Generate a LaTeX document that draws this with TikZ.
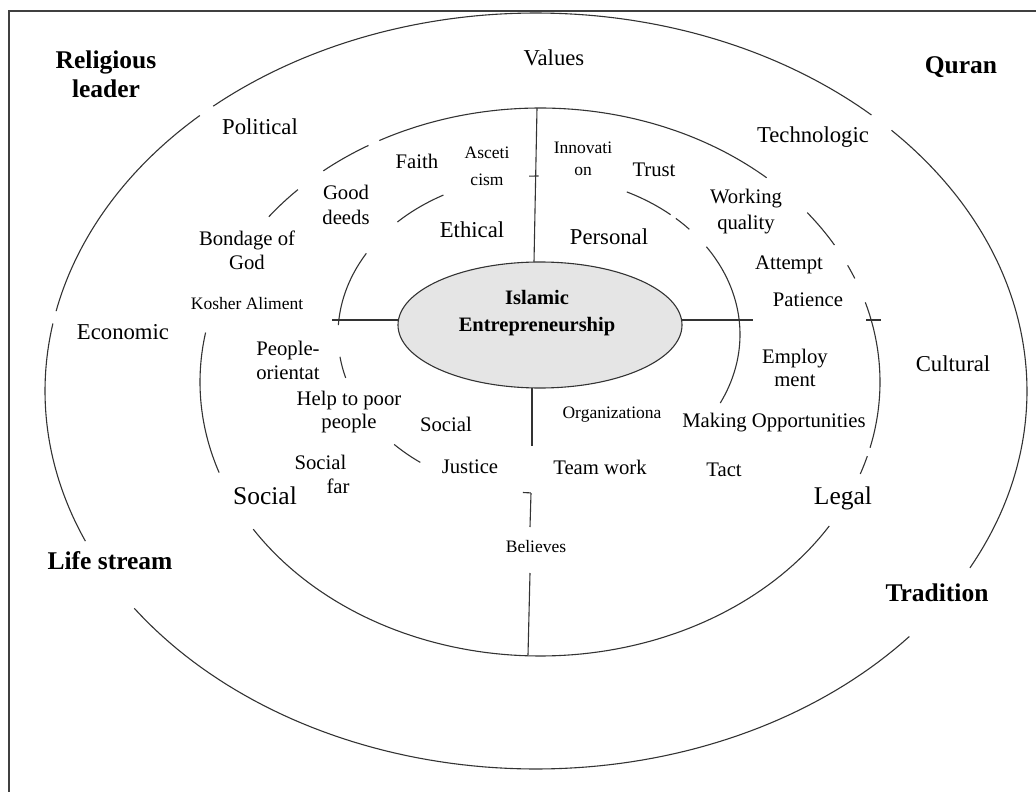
\documentclass[tikz,border=0pt]{standalone}
\usepackage{fontspec}
\setmainfont{Liberation Serif}
\usetikzlibrary{shapes.geometric}
\newcommand{\ellarc}[6]{\draw[ring] plot[domain=#5:#6,samples=80,variable=\t] ({#1+#3*cos(\t)},{#2+#4*sin(\t)});}
\begin{document}
\begin{tikzpicture}[x=1pt,y=-1pt,
  ring/.style={draw=black!80, line width=1.1pt},
  frame/.style={draw=black!75, line width=1.6pt},
  lbl/.style={inner sep=0pt, align=center, font=\fontsize{20.7}{24}\selectfont},
  lblL/.style={inner sep=0pt, align=center, font=\fontsize{22.7}{26}\selectfont},
  big/.style={inner sep=0pt, align=center, font=\fontsize{25.5}{30}\selectfont},
  small/.style={inner sep=0pt, align=center, font=\fontsize{17.5}{22}\selectfont},
  boldlbl/.style={inner sep=0pt, align=center, font=\fontsize{25.5}{29}\selectfont\bfseries},
  core/.style={ellipse, draw=black!80, line width=1.1pt, fill=black!10, minimum width=284pt, minimum height=126pt, inner sep=0pt},
]
\useasboundingbox (0,0) rectangle (1036,792);
\clip (0,0) rectangle (1036,792);
\draw[frame] (9,11) rectangle (1060,820);

% outer ellipse
\ellarc{536}{391}{491}{378}{-43.6}{27.9}
\ellarc{536}{391}{491}{378}{40.5}{144.9}
\ellarc{536}{391}{491}{378}{156.6}{190.3}
\ellarc{536}{391}{491}{378}{192.2}{226.8}
\ellarc{536}{391}{491}{378}{228.9}{313.1}

% middle ellipse
\ellarc{540}{382}{340}{274}{241.8}{311.8}
\ellarc{540}{382}{340}{274}{321.8}{330.0}
\ellarc{540}{382}{340}{274}{334.8}{337.8}
\ellarc{540}{382}{340}{274}{343.1}{373.9}
\ellarc{540}{382}{340}{274}{15.7}{19.6}
\ellarc{540}{382}{340}{274}{31.7}{147.5}
\ellarc{540}{382}{340}{274}{160.7}{190.4}
\ellarc{540}{382}{340}{274}{217.1}{224.6}
\ellarc{540}{382}{340}{274}{230.4}{239.7}

% inner ellipse
\ellarc{539}{334.5}{201}{158.5}{225.2}{241.6}
\ellarc{539}{334.5}{201}{158.5}{183.4}{210.8}
\ellarc{539}{334.5}{201}{158.5}{164.1}{171.9}
\ellarc{539}{334.5}{201}{158.5}{126.2}{136.1}
\ellarc{539}{334.5}{201}{158.5}{-33.6}{25.6}
\ellarc{539}{334.5}{201}{158.5}{-64.1}{-49.1}
\ellarc{539}{334.5}{201}{158.5}{-47.1}{-41.6}
\ellarc{539}{334.5}{201}{158.5}{267.2}{269.9}
\ellarc{539}{334.5}{201}{158.5}{92.3}{94.6}

% core
\node[core] (ie) at (540,325) {};
\node[inner sep=0pt, align=center, font=\fontsize{20.5}{27}\selectfont\bfseries] (iet) at (537,313) {Islamic\\Entrepreneurship};

% connectors
\coordinate (vt) at (537,108); \coordinate (vb) at (534,262);
\draw[ring] (vt) -- (vb);
\coordinate (hl1) at (332,320); \coordinate (hl2) at (398.4,320);
\draw[ring] (hl1) -- (hl2);
\coordinate (hr1) at (681.6,320); \coordinate (hr2) at (753,320);
\draw[ring] (hr1) -- (hr2);
\coordinate (ht1) at (866,320); \coordinate (ht2) at (881,320);
\draw[ring] (ht1) -- (ht2);
\coordinate (d1a) at (532,388); \coordinate (d1b) at (532,446);
\draw[ring] (d1a) -- (d1b);
\coordinate (d2a) at (531,493); \coordinate (d2b) at (530,527);
\draw[ring] (d2a) -- (d2b);
\coordinate (d3a) at (530,573); \coordinate (d3b) at (528,655);
\draw[ring] (d3a) -- (d3b);

% bold corner labels
\node[boldlbl] (rel) at (106,74) {Religious\\leader};
\node[boldlbl] (qur) at (961,67) {Quran};
\node[boldlbl] (life) at (110,561) {Life stream};
\node[boldlbl] (trad) at (937,593) {Tradition};

% outer ring labels
\node[lblL] (val) at (554,58) {Values};
\node[lblL] (pol) at (260,127) {Political};
\node[lblL] (tec) at (813,137) {Technologic};
\node[lblL] (eco) at (123,332) {Economic};
\node[lblL] (cul) at (953,364) {Cultural};
\node[big] (soc) at (265,496) {Social};
\node[big] (leg) at (843,498) {Legal};

% middle ring labels
\node[lbl] (fai) at (417,161) {Faith};
\node[small, font=\fontsize{17.5}{27}\selectfont] (asc) at (487,166) {Asceti\\cism};
\node[small, font=\fontsize{17.5}{22}\selectfont] (inn) at (583,159) {Innovati\\on};
\node[lbl] (tru) at (654,170) {Trust};
\node[lbl, font=\fontsize{20.7}{25}\selectfont] (good) at (346,205) {Good\\deeds};
\node[lblL] (eth) at (472,230) {Ethical};
\node[lblL] (per) at (609,237) {Personal};
\node[lbl, font=\fontsize{20.7}{26}\selectfont] (wq) at (746,212) {Working\\quality};
\node[lbl] (bon) at (247,250) {Bondage of\\God};
\node[lbl] (att) at (789,265) {Attempt};
\node[small] (kos) at (247,304) {Kosher Aliment};
\node[lbl] (pat) at (808,300) {Patience};
\node[lbl, align=left] (peo) at (288,360) {People-\\orientat};
\node[lbl, font=\fontsize{20.7}{23}\selectfont] (emp) at (795,368) {Employ\\ment};
\node[lbl, font=\fontsize{20.7}{23}\selectfont] (help) at (349,412) {Help to poor\\people};
\node[lbl] (soci) at (446,424) {Social};
\node[small] (org) at (612,415) {Organizationa};
\node[lbl] (mak) at (774,423) {Making Opportunities};
\node[lbl, align=left] (sfar) at (322,474) {Social\\\hspace*{32pt}far};
\node[lbl] (jus) at (470,467) {Justice};
\node[lbl] (team) at (600,467) {Team work};
\node[lbl] (tact) at (724,470) {Tact};
\node[small] (bel) at (536,547) {Believes};
\end{tikzpicture}
\end{document}
